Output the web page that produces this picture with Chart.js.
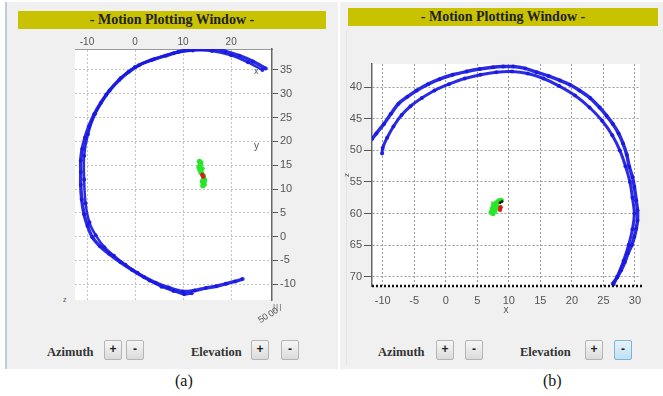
<!DOCTYPE html>
<html>
<head>
<meta charset="utf-8">
<script src="https://cdn.jsdelivr.net/npm/chart.js@4.4.1/dist/chart.umd.min.js"></script>
<style>
  html, body { margin:0; padding:0; background:#fff; }
  body { width:663px; height:396px; position:relative; overflow:hidden; font-family:"Liberation Sans", Arial, sans-serif; }
  .panel { position:absolute; background:#f0f0f0; }
  .bar { position:absolute; height:18px; background:#c8c200; color:#222; font-family:"Liberation Serif","DejaVu Serif",serif; font-weight:bold; font-size:14px; line-height:18px; text-align:center; }
  .lbl { position:absolute; font-family:"Liberation Serif","DejaVu Serif",serif; font-weight:bold; font-size:12.5px; color:#333; line-height:14px; }
  .btn { position:absolute; width:16px; height:18px; border:1px solid #b5b5b5; border-radius:2px; background:linear-gradient(#f7f7f7,#dadada); font-family:"Liberation Sans",sans-serif; font-weight:bold; font-size:12px; color:#222; text-align:center; line-height:17px; }
  .btn.on { background:linear-gradient(#e6f3fb,#bfe0f5); border-color:#7fb3d6; }
  .cap { position:absolute; font-family:"Liberation Serif","DejaVu Serif",serif; font-size:16px; color:#111; }
  .small { position:absolute; font-family:"Liberation Sans",sans-serif; font-size:9px; color:#555; }
  canvas { position:absolute; }
</style>
</head>
<body>
<div class="panel" style="left:5px;top:2px;width:331px;height:367px;border-left:2px solid #b9cde3;"></div>
<div class="panel" style="left:340px;top:2px;width:323px;height:367px;"></div>
<div style="position:absolute;left:346px;top:30px;width:1px;height:335px;background:#e4e4e4;"></div>

<div class="bar" style="left:18px;top:11px;width:308px;">- Motion Plotting Window -</div>
<div class="bar" style="left:348px;top:8px;width:310px;">- Motion Plotting Window -</div>

<canvas id="c1" width="250" height="276" style="left:70px;top:28px;"></canvas>
<canvas id="c2" width="303" height="256" style="left:342px;top:60px;"></canvas>

<span class="small" style="left:254px;top:66px;">x</span>
<span class="small" style="left:254px;top:140px;font-size:10px;">y</span>
<span class="small" style="left:63px;top:296px;font-size:7px;">z</span>
<span class="small" style="left:273px;top:302px;font-size:8px;letter-spacing:1px;">|||</span>
<span class="small" style="left:258px;top:313px;transform:rotate(-35deg);font-size:9px;">50</span>
<span class="small" style="left:268px;top:307px;transform:rotate(-35deg);font-size:9px;">00</span>

<div class="lbl" style="left:47px;top:345px;">Azimuth</div>
<div class="btn" style="left:104px;top:340px;">+</div>
<div class="btn" style="left:126px;top:340px;">-</div>
<div class="lbl" style="left:191px;top:345px;">Elevation</div>
<div class="btn" style="left:251px;top:340px;">+</div>
<div class="btn" style="left:281px;top:340px;">-</div>

<div class="lbl" style="left:378px;top:345px;">Azimuth</div>
<div class="btn" style="left:436px;top:340px;">+</div>
<div class="btn" style="left:465px;top:340px;">-</div>
<div class="lbl" style="left:520px;top:345px;">Elevation</div>
<div class="btn" style="left:585px;top:340px;">+</div>
<div class="btn on" style="left:614px;top:340px;">-</div>

<div class="cap" style="left:175px;top:372px;">(a)</div>
<div class="cap" style="left:543px;top:372px;">(b)</div>

<script>
// ---------- Panel (a): x-y view ----------
const aXTicks = [-10, 0, 10, 20];
const aYTicks = [-10, -5, 0, 5, 10, 15, 20, 25, 30, 35];
const aTrackOuterX = [27.2,24.5,21.7,18.8,16.1,13.8,11.6,9.0,6.4,3.5,0.8,-1.3,-3.3,-5.3,-7.1,-8.5,-9.6,-10.4,-11.0,-11.3,-11.3,-11.3,-11.1,-10.6,-9.9,-8.9,-7.3,-5.4,-3.0,-0.6,1.9,4.3,7.0,9.9,12.4,14.7,16.9,18.9,20.8,22.4];
const aTrackOuterY = [35.3,36.8,38.0,38.9,39.4,39.4,39.3,38.8,38.0,37.1,36.0,34.6,32.9,30.7,28.1,25.7,23.2,20.8,18.4,16.0,13.6,10.9,7.8,4.7,2.3,-0.1,-2.0,-3.6,-5.4,-7.0,-8.5,-9.7,-10.7,-11.5,-11.3,-10.8,-10.4,-9.9,-9.4,-8.9];
const aTrackInnerX = [26.5,23.5,20.0,16.0,12.0,8.0,4.0,0.0,-3.0,-6.0,-8.3,-9.8,-10.6,-10.6,-10.3,-9.5,-8.2,-6.4,-4.4,-2.0,0.5,3.0,5.5,8.0,10.2,11.8];
const aTrackInnerY = [35.0,36.6,38.1,39.0,39.1,38.5,37.3,35.6,33.3,29.8,25.8,21.5,17.0,12.0,7.0,3.0,0.3,-2.2,-4.0,-5.9,-7.6,-9.2,-10.5,-11.4,-12.1,-11.9];
const aGreenX = [13.4,13.7,13.6,13.3,13.9,13.5,13.8,14.2,14.3,14.5,14.0,14.4,14.1];
const aGreenY = [15.8,15.5,15.2,14.6,14.3,14.0,13.4,12.8,12.2,11.8,11.6,11.0,10.7];
const aRedX = [14.0,14.2];
const aRedY = [13.0,12.6];

// ---------- Panel (b): x-z view ----------
const bXTicks = [-10, -5, 0, 5, 10, 15, 20, 25, 30];
const bZTicks = [40, 45, 50, 55, 60, 65, 70];
const bTrackOuterX = [-11.7,-11.0,-9.8,-8.7,-7.5,-6.1,-4.6,-2.8,-1.0,1.1,3.3,5.4,7.5,9.1,10.7,12.6,14.4,16.3,18.1,19.7,21.2,22.9,24.4,25.5,26.5,27.4,28.1,28.7,29.1,29.6,29.9,30.2,30.4,30.4,30.2,29.9,29.5,28.9,28.4,27.8,27.2,26.5];
const bTrackOuterZ = [48.2,47.3,45.8,44.2,42.6,41.5,40.5,39.5,38.7,38.0,37.5,37.1,36.8,36.7,36.7,37.0,37.6,38.2,38.9,39.6,40.5,41.7,43.2,44.5,45.8,47.3,48.9,50.7,52.6,54.2,55.8,57.9,59.5,61.1,62.4,63.7,65.0,66.3,67.7,69.0,70.1,71.1];
const bTrackInnerX = [-10.1,-10.0,-9.3,-8.3,-7.0,-5.6,-3.8,-1.8,0.5,3.0,5.5,8.0,10.5,13.0,15.5,18.0,20.5,22.8,24.8,26.4,27.6,28.5,29.2,29.6,29.9,29.6,29.0,28.2,27.2,26.6];
const bTrackInnerZ = [50.5,49.6,48.0,46.2,44.4,43.0,41.7,40.5,39.5,38.6,38.0,37.6,37.5,37.8,38.6,39.8,41.3,43.2,45.3,47.6,50.0,52.5,55.0,57.5,60.0,62.5,65.0,67.5,70.0,71.3];
const bGreenX = [7.5,7.2,7.4,7.8,7.6,8.2,8.0,8.4,8.8];
const bGreenZ = [60.0,59.8,59.2,59.5,58.6,59.0,58.3,58.0,57.9];
const bRedX = [8.6,8.7];
const bRedZ = [59.4,59.0];
const bBlackX = [8.6,8.9];
const bBlackZ = [58.3,58.1];

const zip = (xs, ys) => xs.map((x, i) => ({ x: x, y: ys[i] }));
const BLUE = 'rgba(25,25,225,0.92)';

function track(xs, ys, w, ord) {
  return { data: zip(xs, ys), showLine: true, borderColor: BLUE, borderWidth: w, backgroundColor: BLUE,
           pointRadius: 2, pointBorderWidth: 0, tension: 0.3, order: ord };
}
function blob(xs, ys, col, r, line, ord) {
  return { data: zip(xs, ys), showLine: line, borderColor: col, borderWidth: 3.5, backgroundColor: col,
           pointRadius: r, pointBorderWidth: 0, order: ord };
}

const whiteArea = {
  id: 'whiteArea',
  beforeDraw(chart) {
    const a = chart.chartArea, c = chart.ctx;
    c.save(); c.fillStyle = '#ffffff'; c.fillRect(a.left, a.top, a.right - a.left, a.bottom - a.top); c.restore();
  }
};
const dottedBase = {
  id: 'dottedBase',
  afterDatasetsDraw(chart) {
    const a = chart.chartArea, c = chart.ctx;
    c.save(); c.strokeStyle = '#111'; c.lineWidth = 2.5; c.setLineDash([2, 2]);
    c.beginPath(); c.moveTo(a.left, a.bottom); c.lineTo(a.right + 2, a.bottom); c.stroke(); c.restore();
  }
};
function noPad(s) { s.paddingLeft = 0; s.paddingRight = 0; s.paddingTop = 0; s.paddingBottom = 0; }

const tickFont = { family: 'Liberation Sans', size: 11 };

new Chart(document.getElementById('c1'), {
  type: 'scatter',
  data: { datasets: [
    track(aTrackOuterX, aTrackOuterY, 3.5, 3),
    track(aTrackInnerX, aTrackInnerY, 2.5, 4),
    blob(aGreenX, aGreenY, 'rgb(40,230,40)', 2.6, true, 2),
    blob(aRedX, aRedY, 'rgb(215,30,30)', 2.2, false, 1)
  ]},
  options: {
    responsive: false, animation: false,
    layout: { padding: { left: 5, right: 0, top: 0, bottom: 2 } },
    plugins: { legend: { display: false }, tooltip: { enabled: false } },
    scales: {
      x: { type: 'linear', position: 'top', min: -12.5, max: 28.5,
           afterBuildTicks: s => { s.ticks = aXTicks.map(v => ({ value: v })); },
           afterFit: s => { s.height = 21; noPad(s); },
           grid: { color: '#c4c4c4', drawTicks: false },
           border: { display: true, color: '#9a9a9a', dash: [2, 2] },
           ticks: { color: '#555', font: { family: 'Liberation Sans', size: 10 }, padding: 1 } },
      y: { type: 'linear', position: 'right', min: -13.3, max: 39.4,
           afterBuildTicks: s => { s.ticks = aYTicks.map(v => ({ value: v })); },
           afterFit: s => { s.width = 48; noPad(s); },
           grid: { color: '#c4c4c4', tickLength: 6, tickColor: '#555' },
           border: { display: true, color: '#666', width: 1.5, dash: [2, 2] },
           ticks: { color: '#555', font: tickFont, padding: 2 } }
    }
  },
  plugins: [whiteArea]
});

new Chart(document.getElementById('c2'), {
  type: 'scatter',
  data: { datasets: [
    track(bTrackOuterX, bTrackOuterZ, 3.5, 4),
    track(bTrackInnerX, bTrackInnerZ, 3, 5),
    blob(bGreenX, bGreenZ, 'rgb(40,230,40)', 2.6, true, 3),
    blob(bRedX, bRedZ, 'rgb(215,30,30)', 2.2, false, 1),
    blob(bBlackX, bBlackZ, 'rgb(30,30,30)', 1.5, false, 2)
  ]},
  options: {
    responsive: false, animation: false,
    layout: { padding: { left: 0, right: 5, top: 3, bottom: 0 } },
    plugins: { legend: { display: false }, tooltip: { enabled: false } },
    scales: {
      x: { type: 'linear', position: 'bottom', min: -11.7, max: 30.8,
           afterBuildTicks: s => { s.ticks = bXTicks.map(v => ({ value: v })); },
           afterFit: s => { s.height = 30; noPad(s); },
           grid: { color: '#9a9a9a', drawTicks: false },
           border: { display: false, dash: [2, 2] },
           ticks: { color: '#555', font: tickFont, padding: 8 },
           title: { display: true, text: 'x', color: '#555', font: { family: 'Liberation Sans', size: 10 }, padding: 0 } },
      y: { type: 'linear', position: 'left', reverse: true, min: 36.3, max: 71.5,
           afterBuildTicks: s => { s.ticks = bZTicks.map(v => ({ value: v })); },
           afterFit: s => { s.width = 30; noPad(s); },
           grid: { color: '#9a9a9a', tickLength: 8, tickColor: '#555' },
           border: { display: true, color: '#666', width: 1.5, dash: [2, 2] },
           ticks: { color: '#555', font: tickFont, padding: 2 },
           title: { display: true, text: 'z', color: '#555', font: { family: 'Liberation Sans', size: 8 }, padding: 0 } }
    }
  },
  plugins: [whiteArea, dottedBase]
});
</script>
</body>
</html>
